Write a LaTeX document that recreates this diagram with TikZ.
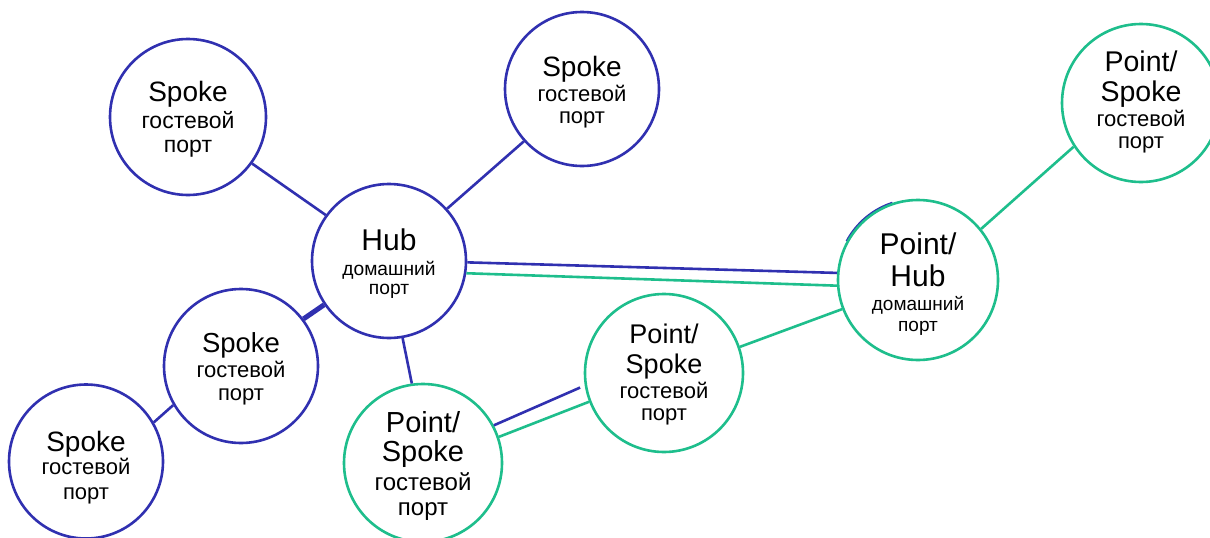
\documentclass[tikz,border=0pt]{standalone}
\usepackage{fontspec}
\setmainfont{Liberation Sans}
\usetikzlibrary{calc}
\definecolor{cblue}{RGB}{48,48,176}
\definecolor{cgreen}{RGB}{30,190,140}
\newcommand\tfs[1]{\fontsize{#1}{#1}\selectfont}
\begin{document}
\begin{tikzpicture}[x=1pt,y=-1pt,
  bc/.style={circle, draw=cblue, line width=2.6pt, inner sep=0pt, minimum size=154pt},
  gc/.style={circle, draw=cgreen, line width=2.6pt, inner sep=0pt, minimum size=158pt},
  bline/.style={draw=cblue, line width=2.6pt},
  gline/.style={draw=cgreen, line width=2.6pt},
  txt/.style={anchor=base, inner sep=0pt, text=black}]
\useasboundingbox[fill=white] (0,0) rectangle (1210,538);
% circles
\node[bc, minimum size=156pt] (tl) at (188,117) {};
\node[bc] (tm) at (582,89) {};
\node[bc] (hub) at (389,261) {};
\node[bc] (ml) at (241,366) {};
\node[bc] (bl) at (86,461.5) {};
\node[gc] (psb) at (423,463) {};
\node[gc] (psm) at (664,373) {};
\coordinate (phc) at (918,280);
\draw[cblue, line width=1.8pt] ($(phc)+(-0.9,-1.3)$) ++(108:80pt) arc[start angle=108, end angle=152, radius=80pt];
\node[gc, minimum size=160pt] (ph) at (phc) {};
\node[gc] (ptr) at (1141,103) {};
% connectors
\draw[bline] (tl.-36.4) -- (hub.144.5);
\draw[bline] (tm.222.2) -- (hub.42.2);
\draw[bline, line width=5pt] (ml.37.2) -- (hub.214.4);
\draw[bline] (hub.280.4) -- (psb.98.2);
\draw[bline] (ml.210.9) -- (bl.30.7);
\draw[bline] (hub.-1.7) -- (ph.175.7);
\draw[gline] (hub.-9.2) -- (ph.184.3);
\draw[bline, shorten >=5pt] (psb.28.4) -- (psm.189.5);
\draw[gline] (psb.19.1) -- (psm.201.5);
\draw[gline] (psm.19.4) -- (ph.201);
\draw[gline] (ph.39.5) -- (ptr.213.7);
% texts
\node[txt, font=\tfs{28}] (tl1) at ($(tl)+(0,-16)$) {Spoke};
\node[txt, font=\tfs{23}] (tl2) at ($(tl)+(0,11)$) {гостевой};
\node[txt, font=\tfs{23}] (tl3) at ($(tl)+(0,35.5)$) {порт};
\node[txt, font=\tfs{28}] (tm1) at ($(tm)+(0,-13)$) {Spoke};
\node[txt, font=\tfs{22}] (tm2) at ($(tm)+(0,12)$) {гостевой};
\node[txt, font=\tfs{22}] (tm3) at ($(tm)+(0,34.5)$) {порт};
\node[txt, font=\tfs{30}] (hub1) at ($(hub)+(0,-11)$) {Hub};
\node[txt, font=\tfs{19.2}] (hub2) at ($(hub)+(0,14)$) {домашний};
\node[txt, font=\tfs{19.2}] (hub3) at ($(hub)+(0,33)$) {порт};
\node[txt, font=\tfs{27.5}] (ml1) at ($(ml)+(0,-14)$) {Spoke};
\node[txt, font=\tfs{22}] (ml2) at ($(ml)+(0,11)$) {гостевой};
\node[txt, font=\tfs{22}] (ml3) at ($(ml)+(0,34)$) {порт};
\node[txt, font=\tfs{28}] (bl1) at ($(bl)+(0,-10)$) {Spoke};
\node[txt, font=\tfs{22}] (bl2) at ($(bl)+(0,13)$) {гостевой};
\node[txt, font=\tfs{22}] (bl3) at ($(bl)+(0,38)$) {порт};
\node[txt, font=\tfs{29}] (psb1) at ($(psb)+(0,-31)$) {Point/};
\node[txt, font=\tfs{29}] (psb2) at ($(psb)+(0,-2)$) {Spoke};
\node[txt, font=\tfs{24}] (psb3) at ($(psb)+(0,27)$) {гостевой};
\node[txt, font=\tfs{24}] (psb4) at ($(psb)+(0,52)$) {порт};
\node[txt, font=\tfs{27}] (psm1) at ($(psm)+(0,-30)$) {Point/};
\node[txt, font=\tfs{27}] (psm2) at ($(psm)+(0,0)$) {Spoke};
\node[txt, font=\tfs{22}] (psm3) at ($(psm)+(0,25)$) {гостевой};
\node[txt, font=\tfs{22}] (psm4) at ($(psm)+(0,47)$) {порт};
\node[txt, font=\tfs{30}] (ph1) at ($(ph)+(0,-26)$) {Point/};
\node[txt, font=\tfs{30}] (ph2) at ($(ph)+(0,6)$) {Hub};
\node[txt, font=\tfs{19}] (ph3) at ($(ph)+(0,30)$) {домашний};
\node[txt, font=\tfs{19}] (ph4) at ($(ph)+(0,51)$) {порт};
\node[txt, font=\tfs{28.5}] (ptr1) at ($(ptr)+(0,-32)$) {Point/};
\node[txt, font=\tfs{28.5}] (ptr2) at ($(ptr)+(0,-2)$) {Spoke};
\node[txt, font=\tfs{22}] (ptr3) at ($(ptr)+(0,23)$) {гостевой};
\node[txt, font=\tfs{22}] (ptr4) at ($(ptr)+(0,45)$) {порт};
\end{tikzpicture}
\end{document}
